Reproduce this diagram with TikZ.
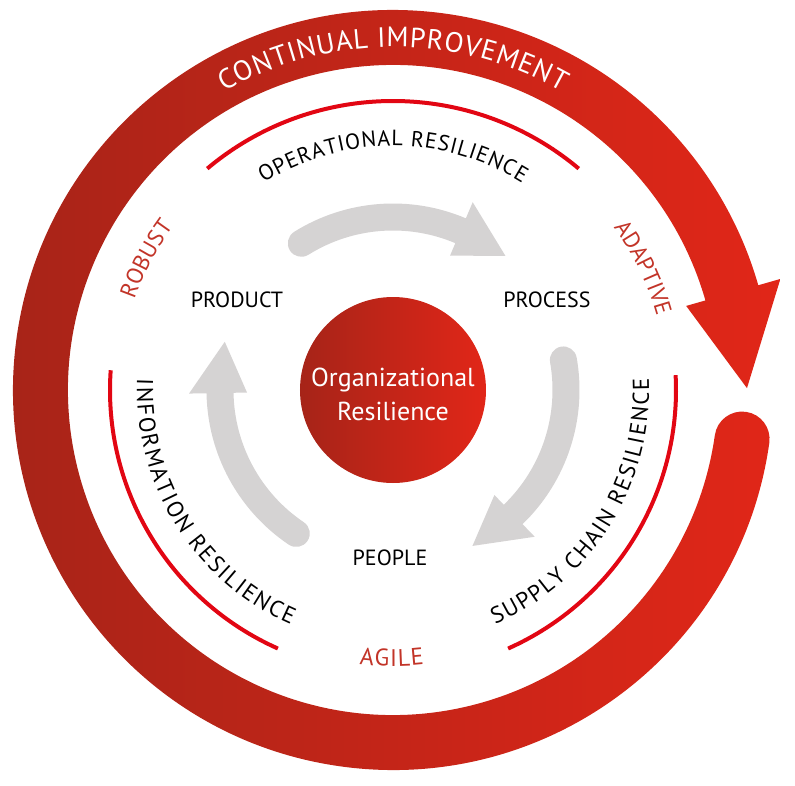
\documentclass[tikz,border=0pt]{standalone}
\usepackage{fontspec}
\setmainfont{PT Sans}
\usepackage{tikz}
\usetikzlibrary{decorations.text}
\definecolor{ringdark}{RGB}{166,36,24}
\definecolor{ringlight}{RGB}{225,38,24}
\definecolor{rimred}{RGB}{226,6,19}
\definecolor{tagred}{RGB}{194,52,40}
\definecolor{loopgray}{RGB}{213,211,211}
\newcommand\ringfont{\fontsize{28}{28}\selectfont}
\newcommand\stagefont{\fontsize{22}{22}\selectfont}
\newcommand\sidefont{\fontsize{23}{23}\selectfont}
\newcommand\tagfont{\fontsize{23}{23}\selectfont}
\newcommand\corefont{\fontsize{26}{34}\selectfont}

\begin{document}
\begin{tikzpicture}[
    pointer/.style={fill=loopgray},
    rim/.style={draw=rimred, line width=4pt},
    stage/.style={font=\stagefont},
    along/.style={decorate, decoration={text along path, text align=center, text={#1}}},
    spread/.style={decorate, decoration={text along path, text align={fit to path}, text={#1}}}
  ]
\useasboundingbox (-393pt,-395pt) rectangle (402pt,390pt);
\shade[left color=ringdark, right color=ringlight]
  (-8:380pt) arc[start angle=-8, end angle=-344, radius=380pt]
  -- (16:403pt) -- (0.3:354pt) -- (16:305pt) -- (16:325pt)
  arc[start angle=-344, end angle=-8, radius=325pt]
  arc[start angle=172, end angle=-8, radius=27.5pt] -- cycle;
\path[spread={|\ringfont\color{white}|CONTINUAL{ }IMPROVEMENT}] (119.5:343pt) arc[start angle=119.5, end angle=60.5, radius=343pt];
\draw[rim] (130:289pt) arc[start angle=130, end angle=50, radius=289pt];
\draw[rim] (176:283pt) arc[start angle=176, end angle=246, radius=283pt];
\draw[rim] (-66:283pt) arc[start angle=-66, end angle=3, radius=283pt];
\path[spread={|\stagefont|OPERATIONAL{ }RESILIENCE}] (122:244pt) arc[start angle=122, end angle=58, radius=244pt];
\path[spread={|\sidefont|INFORMATION{ }RESILIENCE}] (177.5:256pt) arc[start angle=177.5, end angle=246.5, radius=256pt];
\path[spread={|\sidefont|SUPPLY{ }CHAIN{ }RESILIENCE}] (-66.5:256pt) arc[start angle=-66.5, end angle=2.5, radius=256pt];
\path[along={|\tagfont\color{tagred}|ROBUST}] (182:274pt) arc[start angle=182, end angle=122, radius=274pt];
\path[along={|\tagfont\color{tagred}|ADAPTIVE}] (56:274pt) arc[start angle=56, end angle=-4, radius=274pt];
\path[spread={|\fontsize{24}{24}\selectfont\color{tagred}|AGILE}] (-97:276pt) arc[start angle=-97, end angle=-83.5, radius=276pt];
\fill[pointer] (122:186.5pt) arc[start angle=122, end angle=67, radius=186.5pt] -- (67:204pt) -- (50:175pt) -- (67:146pt) -- (67:159.5pt)
  arc[start angle=67, end angle=122, radius=159.5pt] arc[start angle=302, end angle=122, radius=13.5pt] -- cycle;
\fill[pointer] (10:186.5pt) arc[start angle=10, end angle=-46, radius=186.5pt] -- (-46:204pt) -- (-63:175pt) -- (-46:146pt) -- (-46:159.5pt)
  arc[start angle=-46, end angle=10, radius=159.5pt] arc[start angle=190, end angle=10, radius=13.5pt] -- cycle;
\fill[pointer] (236:186.5pt) arc[start angle=236, end angle=181, radius=186.5pt] -- (181:204pt) -- (164:175pt) -- (181:146pt) -- (181:159.5pt)
  arc[start angle=181, end angle=236, radius=159.5pt] arc[start angle=416, end angle=236, radius=13.5pt] -- cycle;
\node[circle, minimum size=186pt, left color=ringdark, right color=ringlight, text=white, align=center, font=\corefont] (core) at (0,0) {};
\node[text=white, align=center, font=\corefont] (core text) at (0,-4pt) {Organizational\\Resilience};
\node[stage] (product) at (-156pt,90pt) {PRODUCT};
\node[stage] (process) at (154pt,90pt) {PROCESS};
\node[stage] (people) at (-3pt,-168pt) {PEOPLE};
\end{tikzpicture}
\end{document}
